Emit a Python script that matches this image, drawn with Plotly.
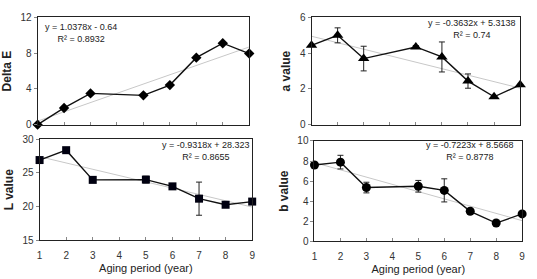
import plotly.graph_objects as go

years = [1, 2, 3, 5, 6, 7, 8, 9]
x_ticks = [1, 2, 3, 4, 5, 6, 7, 8, 9]

delta_e = [0.0, 1.87, 3.5, 3.28, 4.43, 7.5, 9.12, 7.96]
delta_e_err = [0, 0, 0, 0, 0, 0, 0, 0]

a_val = [4.44, 5.0, 3.7, 4.35, 3.79, 2.44, 1.56, 2.23]
a_err = [0, 0.42, 0.69, 0.08, 0.84, 0.4, 0, 0]

l_val = [26.89, 28.35, 23.96, 24.0, 23.0, 21.18, 20.28, 20.75]
l_err = [0.3, 0.2, 0.4, 0.5, 0.4, 2.45, 0.4, 0.2]

b_val = [7.6, 7.89, 5.36, 5.49, 5.08, 3.0, 1.83, 2.74]
b_err = [0.2, 0.68, 0.53, 0.58, 1.15, 0.1, 0.1, 0.1]

# trendline coefficients (slope, intercept) and R²
fits = {
    "de": (1.0378, -0.64, "0.8932"),
    "a": (-0.3632, 5.3138, "0.74"),
    "l": (-0.9318, 28.323, "0.8655"),
    "b": (-0.7223, 8.5668, "0.8778"),
}

W, H = 537, 279
def px(x0, x1):
    return [x0 / W, x1 / W]
def py(y0, y1):
    return [1 - y1 / H, 1 - y0 / H]

panels = [
    ("de", delta_e, delta_e_err, "diamond", 8, "x", "y", px(35, 249), py(12, 124), [0, 12], [0, 4, 8, 12], "Delta E", False),
    ("a", a_val, a_err, "triangle-up", 10, "x2", "y2", px(312, 523), py(12, 124), [0, 6], [0, 2, 4, 6], "a value", False),
    ("l", l_val, l_err, "square", 8, "x3", "y3", px(37, 252), py(139, 245), [15, 30], [15, 20, 25, 30], "L value", True),
    ("b", b_val, b_err, "circle", 9, "x4", "y4", px(315, 525), py(141, 246), [0, 10], [0, 2, 4, 6, 8, 10], "b value", True),
]

fig = go.Figure()
layout = dict(
    width=W, height=H, margin=dict(l=0, r=0, t=0, b=0),
    paper_bgcolor="white", plot_bgcolor="white", showlegend=False,
    font=dict(family="Liberation Sans, Arial, sans-serif", color="#222"),
)
annotations = []

for key, vals, errs, sym, msize, xa, ya, xd, yd, yr, yt, ytitle, showx in panels:
    slope, icpt, r2 = fits[key]
    tx = [1, 9]
    ty = [slope * v + icpt for v in tx]
    fig.add_trace(go.Scatter(x=tx, y=ty, mode="lines", xaxis=xa, yaxis=ya,
                             line=dict(color="#c8c8c8", width=1), hoverinfo="skip"))
    fig.add_trace(go.Scatter(
        x=years, y=vals, mode="lines+markers", xaxis=xa, yaxis=ya,
        line=dict(color="#111", width=1.4),
        marker=dict(symbol=sym, size=msize, color="#000010" if sym == "square" else "#000"),
        error_y=dict(type="data", array=errs, visible=True, color="#222", thickness=1, width=3),
        cliponaxis=False,
    ))
    xname = "xaxis" + xa[1:]
    yname = "yaxis" + ya[1:]
    layout[xname] = dict(
        domain=xd, anchor=ya, range=[1, 9], tickvals=x_ticks,
        showticklabels=showx, ticks="inside", ticklen=3, tickcolor="#888",
        ticklabelstandoff=6,
        showline=True, mirror=True, linecolor="#222", linewidth=1,
        showgrid=False, zeroline=False, tickfont=dict(size=10, color="#333"),
        title=dict(text="Aging period (year)" if showx else "", font=dict(size=11, color="#222"), standoff=3),
    )
    layout[yname] = dict(
        domain=yd, anchor=xa, range=yr, tickvals=yt,
        ticks="outside", ticklen=3, tickcolor="#888",
        showline=True, mirror=True, linecolor="#222", linewidth=1,
        showgrid=False, zeroline=False, tickfont=dict(size=10, color="#333"),
        title=dict(text="<b>" + ytitle + "</b>", font=dict(size=12, color="#222"), standoff=6),
    )
    sign = "-" if icpt < 0 else "+"
    eq = "y = %gx %s %g" % (slope, sign, abs(icpt))
    text = eq + "<br>R² = " + r2
    xc = {"de": 79, "a": 474, "l": 205, "b": 472}[key]
    yc = {"de": 28, "a": 24, "l": 152, "b": 152}[key]
    annotations.append(dict(xref="paper", yref="paper", x=xc / W, y=1 - yc / H,
                            text=text, showarrow=False, align="center",
                            xanchor="center", yanchor="middle",
                            font=dict(size=9, color="#222")))

layout["annotations"] = annotations
fig.update_layout(**layout)
fig.write_html("out.html")
